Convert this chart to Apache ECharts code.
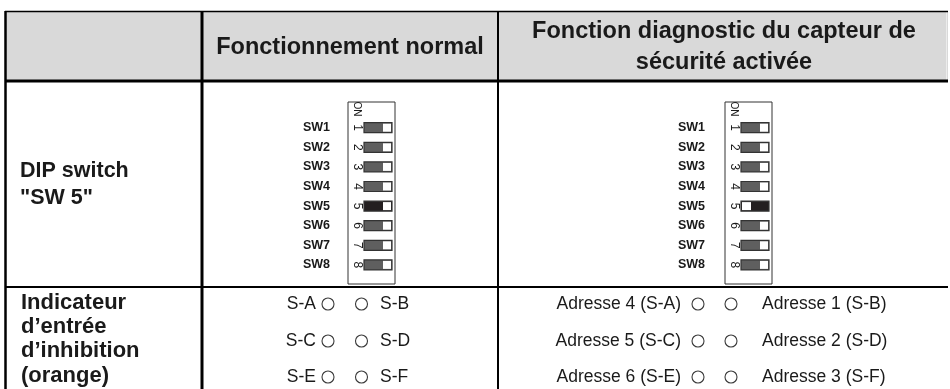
<!DOCTYPE html>
<html>
<head>
<meta charset="utf-8">
<script src="https://cdn.jsdelivr.net/npm/echarts@6/dist/echarts.min.js"></script>
<style>html,body{margin:0;padding:0;background:#fff}#c{width:950px;height:389px}</style>
</head>
<body>
<div id="c"></div>
<script>
// ---- data ----
var headerNormal = ['Fonctionnement normal'];
var headerDiag = ['Fonction diagnostic du capteur de', 'sécurité activée'];
var rowDipLabel = ['DIP switch', '"SW 5"'];
var rowIndLabel = ['Indicateur', 'd\u2019entrée', 'd\u2019inhibition', '(orange)'];
var switchNames = ['SW1', 'SW2', 'SW3', 'SW4', 'SW5', 'SW6', 'SW7', 'SW8'];
var switchDigits = ['1', '2', '3', '4', '5', '6', '7', '8'];
// knob position: 0 = right (off), 1 = left (on)
var posNormal = [0, 0, 0, 0, 0, 0, 0, 0];
var posDiag = [0, 0, 0, 0, 1, 0, 0, 0];
// highlighted (dark) switch
var hiNormal = [0, 0, 0, 0, 1, 0, 0, 0];
var hiDiag = [0, 0, 0, 0, 1, 0, 0, 0];
var indNormalLeft = ['S-A', 'S-C', 'S-E'];
var indNormalRight = ['S-B', 'S-D', 'S-F'];
var indDiagLeft = ['Adresse 4 (S-A)', 'Adresse 5 (S-C)', 'Adresse 6 (S-E)'];
var indDiagRight = ['Adresse 1 (S-B)', 'Adresse 2 (S-D)', 'Adresse 3 (S-F)'];

// ---- drawing ----
var FF = '"Liberation Sans", Arial, Helvetica, sans-serif';
var INK = '#1a1a1a';
var els = [];
function txt(t, x, y, size, bold, align, extra) {
  var e = {
    type: 'text', x: x, y: y,
    style: {
      text: t, x: 0, y: 0,
      font: (bold ? 'bold ' : '') + size + 'px ' + FF,
      fill: INK,
      align: align || 'left', verticalAlign: 'middle',
      textAlign: align || 'left', textVerticalAlign: 'middle'
    }
  };
  if (extra) for (var k in extra) e[k] = extra[k];
  els.push(e);
}
function rect(x, y, w, h, fill, stroke, lw) {
  els.push({type: 'rect', shape: {x: x, y: y, width: w, height: h},
    style: {fill: fill, stroke: stroke || null, lineWidth: lw || 0}});
}
function line(x1, y1, x2, y2, lw, color) {
  els.push({type: 'line', shape: {x1: x1, y1: y1, x2: x2, y2: y2},
    style: {stroke: color || '#000', lineWidth: lw}});
}
function circ(cx, cy, r) {
  els.push({type: 'circle', shape: {cx: cx, cy: cy, r: r},
    style: {fill: '#fff', stroke: '#3a3a3a', lineWidth: 1.1}});
}

// header background
rect(6, 11, 942, 70, '#d9d9d9');
line(946.5, 11, 946.5, 81, 1, '#ececec');

// headers
txt(headerNormal[0], 350, 48, 23.5, true, 'center');
txt(headerDiag[0], 724, 32, 23.5, true, 'center');
txt(headerDiag[1], 724, 63, 23.5, true, 'center');

// row 1 label
txt(rowDipLabel[0], 20, 171, 21.5, true, 'left');
txt(rowDipLabel[1], 20, 198, 21.5, true, 'left');

// DIP switches
function dip(L, labelRight, pos, hi) {
  var top = 102, bottom = 284;
  rect(L, top, 47, bottom - top, '#fff', '#333', 1);
  txt('ON', L + 9, 109, 10, false, 'center', {rotation: -Math.PI / 2});
  for (var i = 0; i < switchNames.length; i++) {
    var cy = 127.7 + i * 19.6;
    txt(switchNames[i], labelRight, cy, 12.5, true, 'right');
    txt(switchDigits[i], L + 9, cy, 12, false, 'center', {rotation: -Math.PI / 2});
    var rx = L + 16, rw = 28, rh = 10;
    var dark = hi[i] ? '#231f20' : '#5f5f5f';
    rect(rx, cy - rh / 2, rw, rh, dark, '#333', 1.2);
    if (pos[i] === 0) {
      rect(rx + rw - 9, cy - rh / 2 + 1, 8, rh - 2, '#fff');
    } else {
      rect(rx + 1, cy - rh / 2 + 1, 9, rh - 2, '#fff');
    }
  }
}
dip(348, 330, posNormal, hiNormal);
dip(725, 705, posDiag, hiDiag);

// row 2 label
var indY = [303, 327, 351, 376];
for (var i = 0; i < rowIndLabel.length; i++) txt(rowIndLabel[i], 21, indY[i], 22, true, 'left');

// indicators
var rowY = [304, 341, 377];
for (var j = 0; j < 3; j++) {
  var y = rowY[j];
  txt(indNormalLeft[j], 316, y, 17.5, false, 'right');
  circ(328, y, 6);
  circ(361.5, y, 6);
  txt(indNormalRight[j], 380, y, 17.5, false, 'left');
  txt(indDiagLeft[j], 681, y, 17.5, false, 'right');
  circ(698, y, 6);
  circ(731, y, 6);
  txt(indDiagRight[j], 762, y, 17.5, false, 'left');
}

// grid lines
line(5, 11.5, 948, 11.5, 1.5);
line(5, 81, 948, 81, 3);
line(5, 287, 948, 287, 2);
line(5.5, 11, 5.5, 389, 2.5);
line(202, 11, 202, 389, 3);
line(498, 11, 498, 389, 2);

var chart = echarts.init(document.getElementById('c'), null, {renderer: 'canvas'});
chart.setOption({animation: false, graphic: {elements: els}});
</script>
</body>
</html>
